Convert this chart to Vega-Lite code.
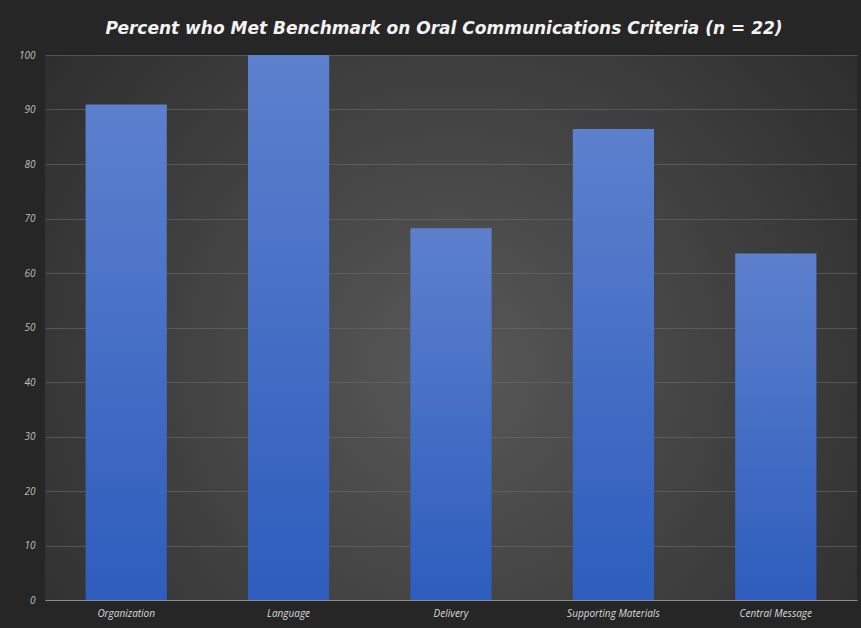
{
  "$schema": "https://vega.github.io/schema/vega-lite/v6.json",
  "autosize": "none",
  "width": 812,
  "height": 545,
  "padding": {"left": 45, "top": 55, "right": 4, "bottom": 28},
  "background": "#262626",
  "title": {
    "text": "Percent who Met Benchmark on Oral Communications Criteria (n = 22)",
    "font": "DejaVu Sans",
    "fontSize": 17,
    "fontWeight": "bold",
    "fontStyle": "italic",
    "color": "#f2f2f2",
    "offset": 12,
    "dx": -7,
    "anchor": "middle"
  },
  "config": {
    "view": {
      "stroke": null,
      "fill": {
        "gradient": "radial",
        "x1": 0.5, "y1": 0.55, "r1": 0,
        "x2": 0.5, "y2": 0.55, "r2": 0.75,
        "stops": [
          {"offset": 0, "color": "#585858"},
          {"offset": 1, "color": "#262626"}
        ]
      }
    }
  },
  "data": {
    "values": [
      {"criterion": "Organization", "percent": 90.9},
      {"criterion": "Language", "percent": 100},
      {"criterion": "Delivery", "percent": 68.2},
      {"criterion": "Supporting Materials", "percent": 86.4},
      {"criterion": "Central Message", "percent": 63.6}
    ]
  },
  "mark": {
    "type": "bar",
    "color": {
      "gradient": "linear",
      "x1": 0, "y1": 0, "x2": 0, "y2": 1,
      "stops": [
        {"offset": 0, "color": "#5c80cd"},
        {"offset": 1, "color": "#2e5dbd"}
      ]
    }
  },
  "encoding": {
    "x": {
      "field": "criterion",
      "type": "nominal",
      "sort": null,
      "scale": {"paddingInner": 0.5, "paddingOuter": 0.25},
      "axis": {
        "title": null,
        "labelAngle": 0,
        "labelFont": "Open Sans",
        "labelFontStyle": "italic",
        "labelFontSize": 10,
        "labelColor": "#d9d9d9",
        "labelPadding": 8,
        "ticks": false,
        "domainColor": "#8a8a8a",
        "domainWidth": 1,
        "grid": false
      }
    },
    "y": {
      "field": "percent",
      "type": "quantitative",
      "scale": {"domain": [0, 100], "nice": false},
      "axis": {
        "title": null,
        "values": [0, 10, 20, 30, 40, 50, 60, 70, 80, 90, 100],
        "labelFont": "Open Sans",
        "labelFontStyle": "italic",
        "labelFontSize": 10,
        "labelColor": "#bfbfbf",
        "labelPadding": 10,
        "ticks": false,
        "domain": false,
        "grid": true,
        "gridColor": "#6a6a6a",
        "gridOpacity": 0.6,
        "gridWidth": 1
      }
    }
  }
}
